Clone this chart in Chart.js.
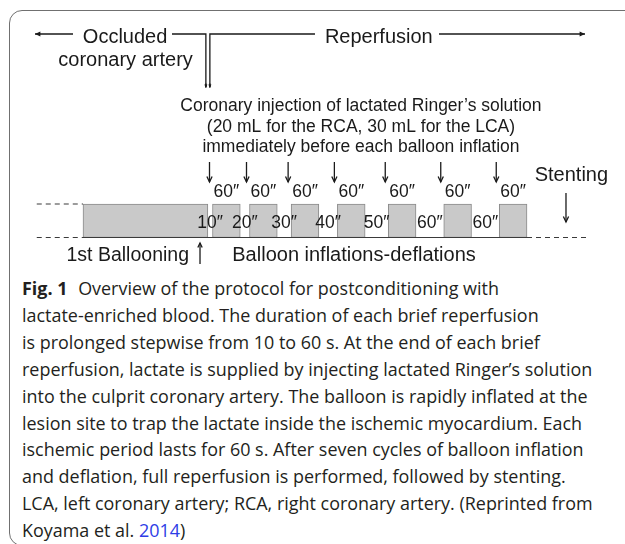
<!DOCTYPE html>
<html>
<head>
<meta charset="utf-8">
<script src="https://cdn.jsdelivr.net/npm/chart.js@4"></script>
<style>
  html, body { margin: 0; padding: 0; background: #fff; }
  body { width: 625px; height: 544px; position: relative; overflow: hidden; }
  #frame {
    position: absolute; left: 9px; top: 10px; width: 700px; height: 536px;
    border: 1.4px solid #707070; border-radius: 13px; box-sizing: border-box;
  }
  #diagram { position: absolute; left: 0; top: 0; width: 625px; height: 272px; }
  #diagram canvas { display: block; }
  #caption {
    position: absolute; left: 22px; top: 275px;
    font-family: "Open Sans", sans-serif; font-size: 18px; line-height: 26.9px;
    color: #231f20; white-space: nowrap; transform-origin: 0 0;
  }
  #caption b { font-weight: 700; margin-right: 6px; }
  #caption .ref { color: #2e3de6; }
</style>
</head>
<body>
<div id="frame"></div>
<div id="diagram"><canvas id="chart"></canvas></div>
<div id="caption">
  <div><b>Fig. 1</b> Overview of the protocol for postconditioning with</div>
  <div>lactate-enriched blood. The duration of each brief reperfusion</div>
  <div>is prolonged stepwise from 10 to 60 s. At the end of each brief</div>
  <div id="longest">reperfusion, lactate is supplied by injecting lactated Ringer’s solution</div>
  <div>into the culprit coronary artery. The balloon is rapidly inflated at the</div>
  <div>lesion site to trap the lactate inside the ischemic myocardium. Each</div>
  <div>ischemic period lasts for 60 s. After seven cycles of balloon inflation</div>
  <div>and deflation, full reperfusion is performed, followed by stenting.</div>
  <div>LCA, left coronary artery; RCA, right coronary artery. (Reprinted from</div>
  <div>Koyama et al. <span class="ref">2014</span>)</div>
</div>
<script>
// balloon inflations, seconds on the protocol timeline
const inflationStart = [0, 280, 360, 450, 550, 660, 780, 900];
const inflationEnd = [270, 340, 420, 510, 610, 720, 840, 960];
// label over each brief inflation after the first one
const inflationLabels = ["60″", "60″", "60″", "60″", "60″", "60″", "60″"];
// brief reperfusions between inflations
const deflationLabels = ["10″", "20″", "30″", "40″", "50″", "60″", "60″"];
// dashed lead-in before the first ballooning and after the last inflation
const leadIn = [-100, 0];
const followUp = [960, 1090];

const FONT = '"Liberation Sans", Arial, sans-serif';
const INK = "#1a1a1a";

function arrow(ctx, x1, y1, x2, y2, head, filled) {
  const a = Math.atan2(y2 - y1, x2 - x1);
  ctx.beginPath();
  ctx.moveTo(x1, y1);
  ctx.lineTo(x2, y2);
  ctx.stroke();
  ctx.beginPath();
  ctx.moveTo(x2 - head * Math.cos(a - 0.45), y2 - head * Math.sin(a - 0.45));
  ctx.lineTo(x2, y2);
  ctx.lineTo(x2 - head * Math.cos(a + 0.45), y2 - head * Math.sin(a + 0.45));
  if (filled) {
    ctx.closePath();
    ctx.fill();
  } else {
    ctx.stroke();
  }
}

function text(ctx, str, x, y, size, align) {
  ctx.font = `${size}px ${FONT}`;
  ctx.textAlign = align || "center";
  ctx.textBaseline = "alphabetic";
  ctx.fillText(str, x, y);
}

// Labels and arrows of the protocol diagram
const annotations = {
  id: "annotations",
  afterDatasetsDraw: (chart) => {
    const ctx = chart.ctx;
    const X = (v) => chart.scales.x.getPixelForValue(v);
    const Y = (v) => chart.scales.y.getPixelForValue(v);
    const switchT = inflationEnd[0];

    ctx.save();
    ctx.strokeStyle = INK;
    ctx.fillStyle = INK;
    ctx.lineWidth = 1.3;

    // top: occluded / reperfusion
    const topY = Y(6.075);
    arrow(ctx, X(-21.6), topY, X(-103.8), topY, 6, true);
    text(ctx, "Occluded", X(91), Y(5.806), 20);
    text(ctx, "coronary artery", X(92), Y(5.134), 20);
    ctx.beginPath();
    ctx.moveTo(X(192.4), topY);
    ctx.lineTo(X(switchT) - 2, topY);
    ctx.lineTo(X(switchT) - 2, Y(4.49));
    ctx.moveTo(X(switchT) + 2, Y(4.49));
    ctx.lineTo(X(switchT) + 2, topY);
    ctx.lineTo(X(501.6), topY);
    ctx.stroke();
    arrow(ctx, X(switchT) - 2, Y(4.6), X(switchT) - 2, Y(4.47), 3.5, true);
    arrow(ctx, X(switchT) + 2, Y(4.6), X(switchT) + 2, Y(4.47), 3.5, true);
    text(ctx, "Reperfusion", X(523), Y(5.82), 20, "left");
    arrow(ctx, X(769.7), topY, X(1085.4), topY, 6, true);

    // injection note
    const noteX = X(601);
    text(ctx, "Coronary injection of lactated Ringer’s solution", noteX, Y(3.776), 17.5);
    text(ctx, "(20 mL for the RCA, 30 mL for the LCA)", noteX, Y(3.164), 17.5);
    text(ctx, "immediately before each balloon inflation", noteX, Y(2.552), 17.5);

    // injection arrows and 60" labels above each brief inflation
    for (let i = 1; i < inflationStart.length; i++) {
      const ax = X(inflationStart[i]) - 3;
      arrow(ctx, ax, Y(2.254), ax, Y(1.657), 6, false);
      text(ctx, inflationLabels[i - 1], X((inflationStart[i] + inflationEnd[i]) / 2), Y(1.209), 17.5);
    }

    // reperfusion durations between inflations
    for (let i = 0; i < deflationLabels.length; i++) {
      text(ctx, deflationLabels[i], X((inflationEnd[i] + inflationStart[i + 1]) / 2), Y(0.284), 17.5);
    }

    // stenting
    text(ctx, "Stenting", X(1056), Y(1.687), 20);
    arrow(ctx, X(1044.3), Y(1.328), X(1044.3), Y(0.463), 6, false);

    // bottom captions
    text(ctx, "1st Ballooning", X(229.2), Y(-0.701), 19.5, "right");
    arrow(ctx, X(253), Y(-0.791), X(253), Y(-0.164), 5, false);
    text(ctx, "Balloon inflations-deflations", X(586), Y(-0.701), 20);

    ctx.restore();
  },
};

const lineStyle = { type: "line", pointRadius: 0, fill: false, borderColor: "#3a3a3a", borderWidth: 1.2, order: 1 };

new Chart(document.getElementById("chart").getContext("2d"), {
  type: "bar",
  data: {
    datasets: [
      {
        ...lineStyle,
        data: [{ x: inflationStart[0], y: 0 }, { x: inflationEnd[inflationEnd.length - 1], y: 0 }],
      },
      { ...lineStyle, borderDash: [5, 4], data: leadIn.map((t) => ({ x: t, y: 1 })) },
      { ...lineStyle, borderDash: [5, 4], data: leadIn.map((t) => ({ x: t, y: 0 })) },
      { ...lineStyle, borderDash: [5, 4], data: followUp.map((t) => ({ x: t, y: 0 })) },
      {
        type: "bar",
        indexAxis: "y",
        data: inflationStart.map((s, i) => ({ x: [s, inflationEnd[i]], y: 0.5 })),
        backgroundColor: "#c9c9c9",
        borderColor: "#8a8a8a",
        borderWidth: 1,
        borderSkipped: false,
        barThickness: 33.5,
        order: 2,
      },
    ],
  },
  options: {
    responsive: true,
    maintainAspectRatio: false,
    animation: false,
    layout: { padding: 0, autoPadding: false },
    plugins: { legend: { display: false }, tooltip: { enabled: false } },
    scales: {
      x: { type: "linear", min: -179.46, max: 1171.89, offset: false, bounds: "data", display: false },
      y: { type: "linear", min: -1.0298, max: 7.0896, offset: false, bounds: "data", display: false },
    },
  },
  plugins: [annotations],
});

// squeeze the caption to the column width of the original
function fitCaption() {
  const cap = document.getElementById("caption");
  const w = document.getElementById("longest").scrollWidth;
  cap.style.transform = `scaleX(${571 / w})`;
}
fitCaption();
document.fonts.ready.then(fitCaption);
</script>
</body>
</html>
